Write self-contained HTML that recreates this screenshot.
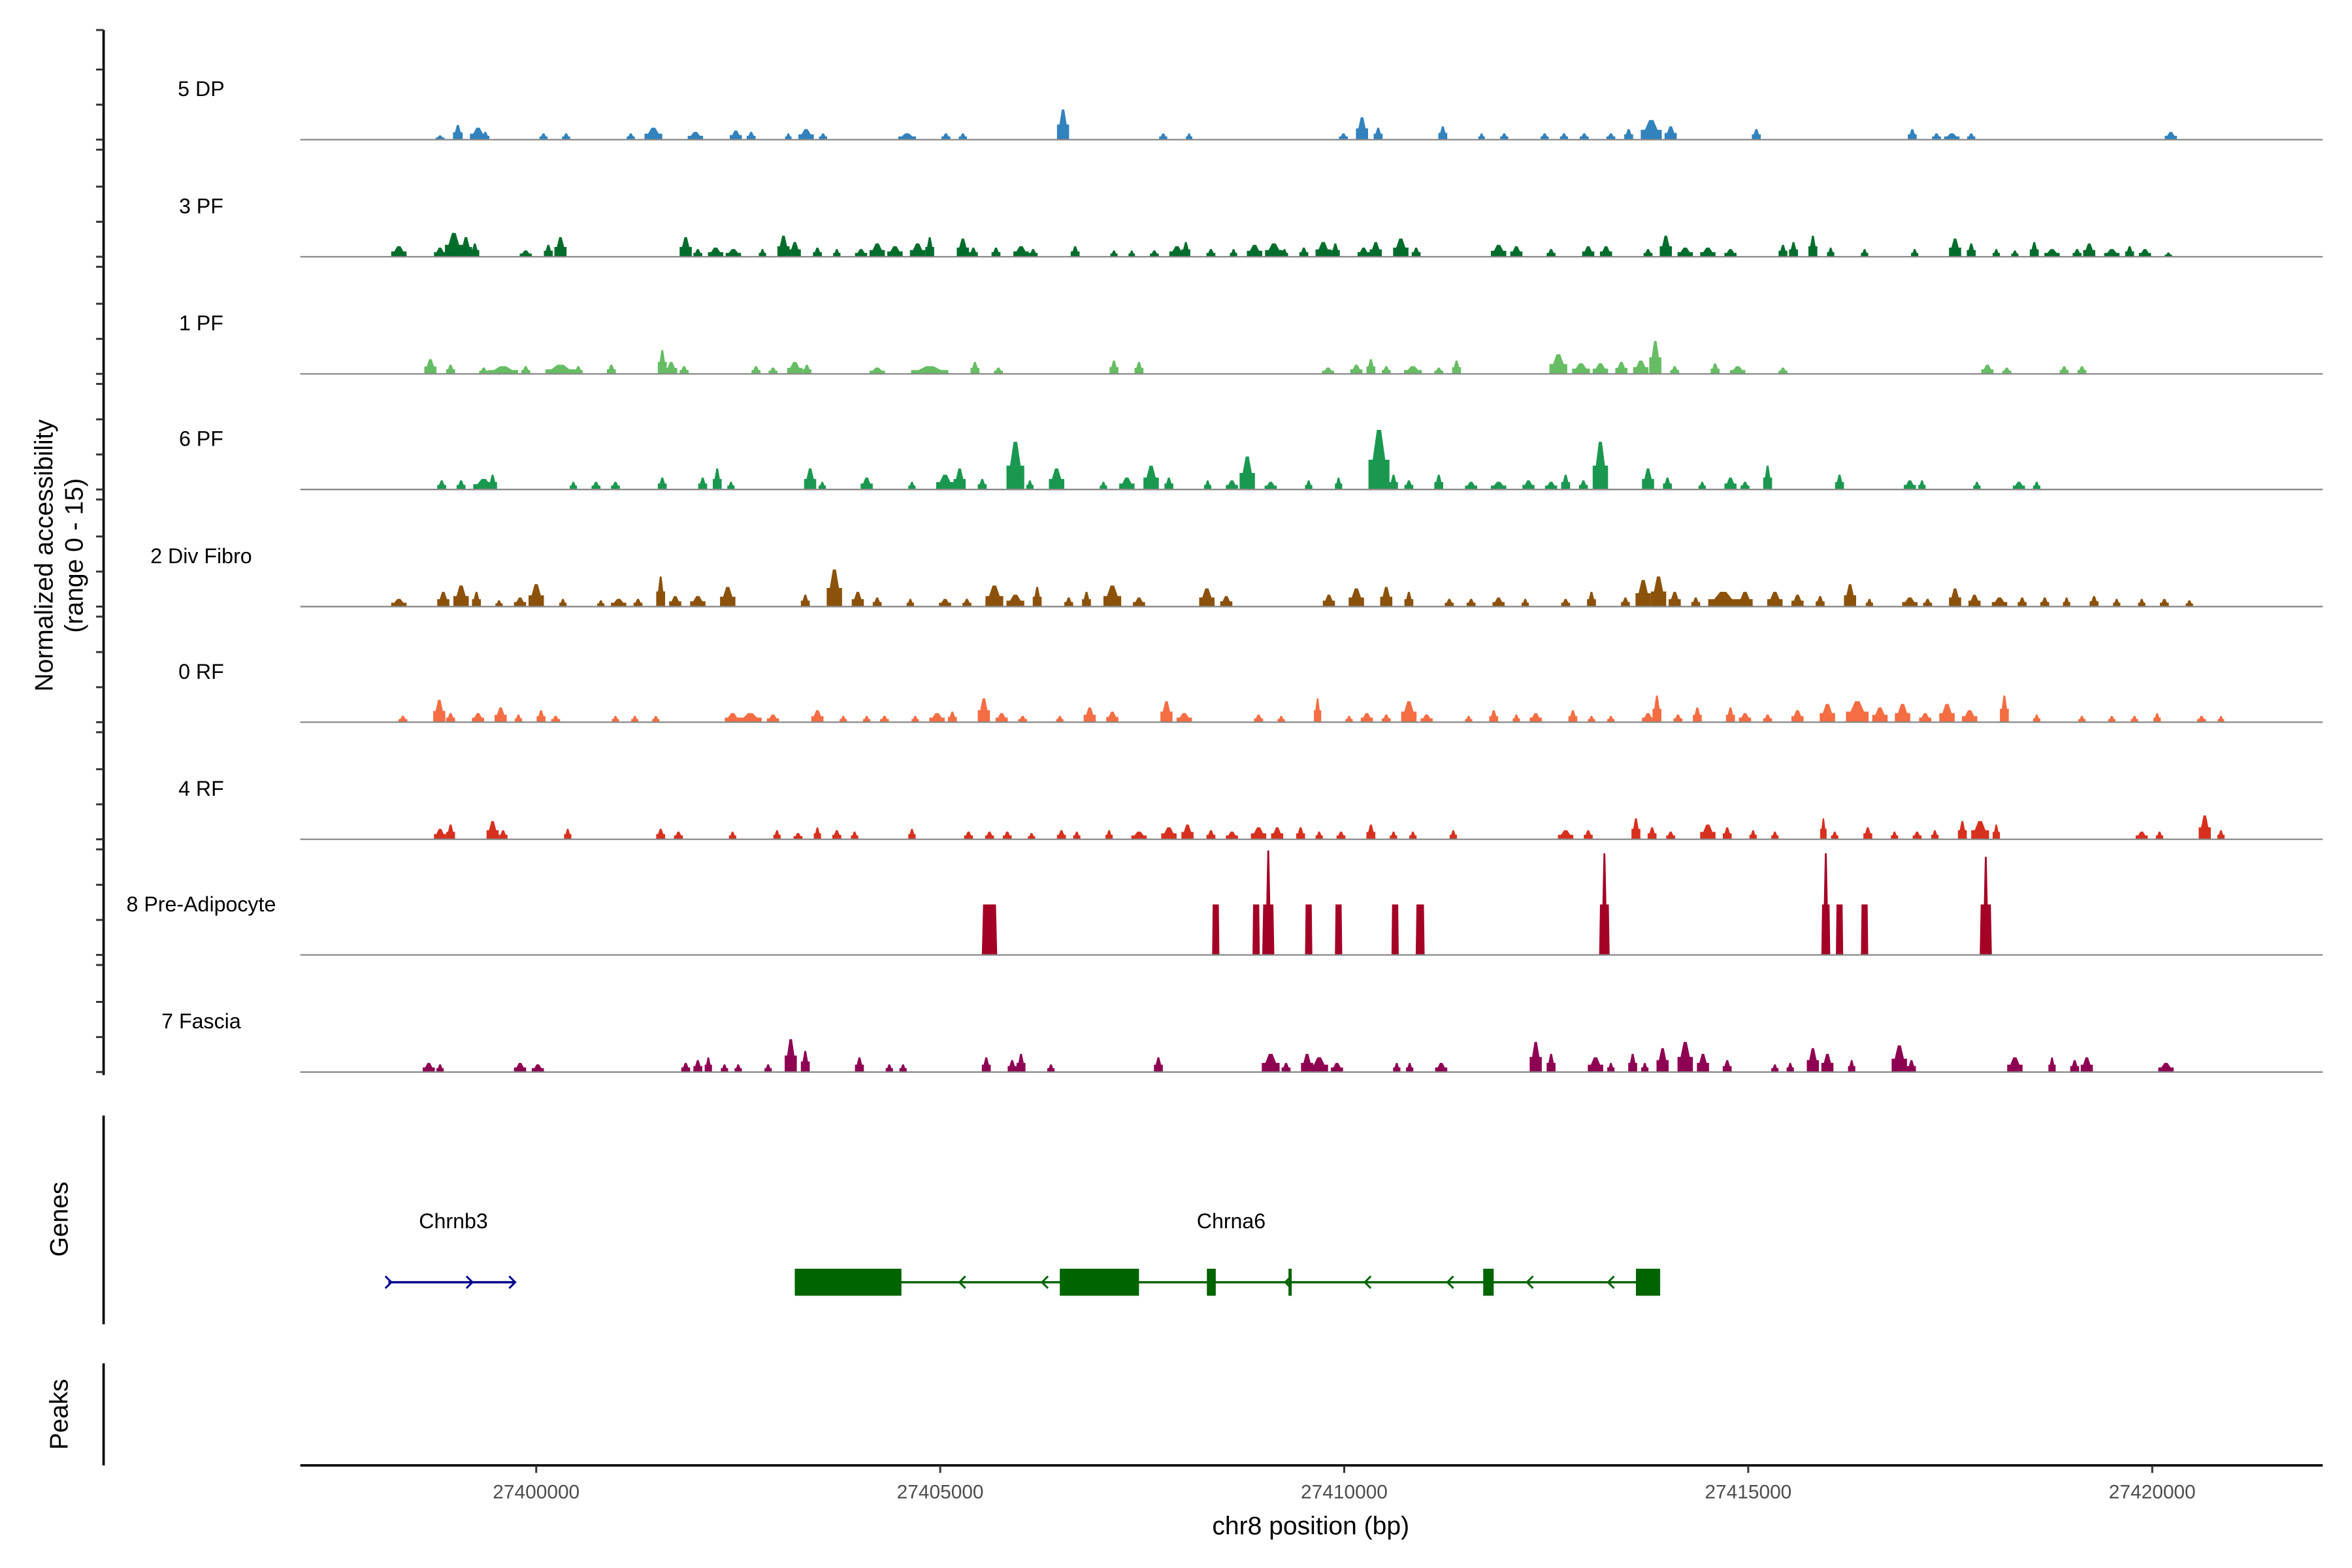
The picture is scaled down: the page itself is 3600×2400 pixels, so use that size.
<!DOCTYPE html>
<html><head><meta charset="utf-8"><style>
html,body{margin:0;padding:0;background:#fff}
svg{display:block}
text{font-family:"Liberation Sans",Arial,sans-serif}
</style></head><body>
<svg id="chart" xmlns="http://www.w3.org/2000/svg" width="3600" height="2400" viewBox="0 0 1566.5 1044.33" preserveAspectRatio="none">
<rect x="0" y="0" width="1570" height="1050" fill="#fff"/>
<g id="tracks"></g>
<g id="genes"></g>
<g id="axes"></g>
</svg>
<script>
// Genomic window (kb offsets relative to 27,400,000 bp)
const xDomain = [-2.92, 22.11];
const xTicks = [27400000, 27405000, 27410000, 27415000, 27420000];
const yRange = [0, 15];
const trackNames = ["5 DP","3 PF","1 PF","6 PF","2 Div Fibro","0 RF","4 RF","8 Pre-Adipocyte","7 Fascia"];
const trackColors = ["#3182bd","#006d2c","#66bd63","#1a9850","#8c510a","#f46d43","#d7301f","#a50026","#8e0152"];
// peaks: [center kb offset, width kb, height (normalized)]
const peaks5DP = [[-1.19,.11,.6],[-0.97,.12,2.1],[-0.72,.2,1.7],[-0.63,.1,1.1],[0.09,.1,.9],[0.37,.1,.9],[1.17,.1,.9],[1.45,.22,1.7],[1.97,.19,1.1],[2.47,.15,1.3],[2.66,.11,1.1],[3.12,.08,.9],[3.34,.19,1.5],[3.55,.1,.9],[4.59,.22,.9],[5.07,.11,.9],[5.28,.1,.9],[6.52,.15,4.3],[7.76,.1,.9],[8.08,.08,.9],[9.99,.11,.9],[10.22,.15,3.2],[10.42,.11,1.7],[11.22,.11,1.9],[11.70,.08,.9],[11.98,.1,.9],[12.48,.1,.9],[12.72,.1,.9],[12.97,.11,.9],[13.30,.11,.9],[13.52,.11,1.5],[13.80,.26,2.8],[14.04,.15,1.9],[15.10,.11,1.5],[17.03,.11,1.5],[17.33,.11,.9],[17.52,.19,.9],[17.76,.1,.9],[20.23,.15,1.1]];
const peaks3PF = [[-1.70,.19,1.5],[-1.19,.15,1.3],[-1.02,.22,3.4],[-0.87,.15,2.8],[-0.76,.11,1.9],[-0.13,.15,.9],[0.15,.11,1.7],[0.30,.15,2.8],[1.85,.15,2.8],[2.00,.11,1.1],[2.22,.19,1.3],[2.44,.19,1.1],[2.80,.09,1.1],[3.06,.15,3.0],[3.20,.15,2.1],[3.48,.11,1.3],[3.72,.09,1.1],[4.02,.15,1.1],[4.22,.19,1.9],[4.44,.19,1.5],[4.72,.19,1.9],[4.87,.11,2.8],[5.28,.15,2.6],[5.41,.11,1.3],[5.69,.11,1.3],[6.00,.19,1.5],[6.15,.11,1.1],[6.67,.11,1.5],[7.15,.09,.9],[7.37,.08,.9],[7.65,.11,.9],[7.93,.19,1.5],[8.04,.11,2.1],[8.35,.11,1.1],[8.63,.09,1.1],[8.89,.19,1.7],[9.13,.22,1.9],[9.26,.09,1.1],[9.50,.11,1.3],[9.74,.19,2.1],[9.89,.11,1.9],[10.24,.15,1.3],[10.39,.15,2.1],[10.70,.19,2.6],[10.89,.11,1.3],[11.91,.19,1.7],[12.13,.15,1.5],[12.56,.11,1.1],[13.02,.15,1.5],[13.24,.15,1.5],[13.76,.11,1.1],[13.98,.15,3.0],[14.22,.19,1.3],[14.50,.19,1.3],[14.78,.15,1.1],[15.43,.11,1.7],[15.56,.11,2.1],[15.80,.11,3.0],[16.02,.09,1.3],[16.44,.09,1.1],[17.06,.09,1.1],[17.56,.15,2.6],[17.76,.11,1.9],[18.07,.09,1.1],[18.30,.09,.9],[18.54,.11,2.1],[18.76,.19,1.1],[19.07,.11,1.1],[19.22,.15,1.9],[19.50,.19,1.1],[19.72,.11,1.5],[19.91,.15,1.1],[20.20,.09,.6]];
const peaks1PF = [[-1.31,.15,2.1],[-1.06,.11,1.3],[-0.65,.11,.9],[-0.41,.37,1.1],[-0.13,.11,1.1],[0.30,.37,1.3],[0.52,.11,1.1],[0.93,.11,1.3],[1.56,.11,3.4],[1.67,.15,1.7],[1.83,.11,1.1],[2.72,.11,1.1],[2.93,.11,.9],[3.20,.19,1.7],[3.35,.11,1.3],[4.22,.19,.9],[4.87,.46,1.1],[5.43,.11,1.7],[5.72,.11,.9],[7.15,.11,1.9],[7.46,.11,1.7],[9.80,.15,.9],[10.15,.15,1.3],[10.33,.11,2.1],[10.52,.11,1.1],[10.85,.22,1.1],[11.17,.11,.9],[11.39,.11,1.9],[12.65,.22,2.8],[12.93,.22,1.5],[13.17,.19,1.5],[13.43,.15,1.7],[13.67,.19,1.9],[13.85,.15,4.7],[14.09,.11,1.1],[14.59,.11,1.5],[14.87,.19,1.1],[15.43,.11,.9],[17.96,.15,1.3],[18.20,.11,.9],[18.91,.11,1.1],[19.13,.11,1.1]];
const peaks6PF = [[-1.17,.11,1.3],[-0.93,.11,1.3],[-0.65,.26,1.5],[-0.54,.11,2.1],[0.46,.09,1.1],[0.74,.11,1.1],[0.98,.11,1.1],[1.56,.11,1.7],[2.06,.11,1.7],[2.24,.11,3.0],[2.41,.09,1.1],[3.39,.15,3.0],[3.54,.09,1.1],[4.09,.15,1.7],[4.65,.09,1.1],[5.06,.22,2.1],[5.24,.15,3.0],[5.52,.11,1.5],[5.93,.22,6.8],[6.11,.09,1.3],[6.44,.19,3.0],[7.02,.09,1.1],[7.31,.19,1.7],[7.61,.19,3.4],[7.83,.11,1.7],[8.31,.09,1.3],[8.61,.15,1.3],[8.80,.19,4.7],[9.09,.15,1.1],[9.56,.09,1.3],[9.93,.09,1.7],[10.43,.26,8.5],[10.61,.11,2.1],[10.80,.11,1.3],[11.17,.11,2.1],[11.57,.15,1.1],[11.91,.19,1.1],[12.28,.15,1.3],[12.56,.15,1.1],[12.74,.11,2.1],[12.96,.11,1.3],[13.17,.19,6.8],[13.76,.15,3.0],[14.00,.11,1.7],[14.43,.09,1.1],[14.78,.15,1.7],[14.96,.11,1.1],[15.24,.11,3.4],[16.13,.11,2.1],[17.00,.15,1.3],[17.15,.09,1.3],[17.83,.09,1.1],[18.35,.15,1.1],[18.57,.09,1.1]];
const peaks2DivFibro = [[-1.70,.19,1.1],[-1.15,.15,2.1],[-0.93,.19,3.0],[-0.74,.11,2.1],[-0.46,.09,.9],[-0.20,.15,1.3],[0.00,.19,3.2],[0.33,.09,1.1],[0.80,.09,.9],[1.02,.19,1.1],[1.26,.11,1.1],[1.54,.11,4.3],[1.72,.15,1.5],[2.00,.19,1.5],[2.37,.19,2.8],[3.33,.11,1.7],[3.69,.19,5.3],[3.98,.15,2.1],[4.22,.11,1.3],[4.63,.09,1.1],[5.06,.15,1.1],[5.33,.11,1.1],[5.67,.22,3.0],[5.93,.22,1.7],[6.20,.11,2.8],[6.59,.11,1.3],[6.81,.11,2.1],[7.13,.22,3.0],[7.46,.15,1.3],[8.30,.19,2.6],[8.54,.15,1.5],[9.81,.15,1.7],[10.15,.19,2.6],[10.52,.15,2.8],[10.80,.11,2.1],[11.30,.11,1.1],[11.57,.11,1.1],[11.91,.15,1.3],[12.24,.09,1.1],[12.74,.11,1.1],[13.06,.11,2.1],[13.48,.11,1.3],[13.70,.19,3.8],[13.89,.19,4.3],[14.09,.15,2.1],[14.35,.11,1.3],[14.69,.37,2.1],[14.96,.19,2.1],[15.33,.19,2.1],[15.61,.15,1.7],[15.89,.11,1.5],[16.26,.15,3.2],[16.50,.09,1.1],[17.00,.19,1.3],[17.22,.11,1.1],[17.56,.15,2.6],[17.80,.15,1.7],[18.11,.19,1.3],[18.39,.11,1.3],[18.67,.11,1.3],[18.94,.09,1.3],[19.28,.11,1.5],[19.56,.09,1.1],[19.87,.09,1.1],[20.15,.11,1.1],[20.46,.09,.9]];
const peaks0RF = [[-1.65,.11,.9],[-1.20,.15,3.2],[-1.06,.11,1.3],[-0.72,.15,1.3],[-0.44,.15,2.1],[-0.22,.09,1.1],[0.06,.11,1.7],[0.24,.11,.9],[0.98,.09,.9],[1.22,.09,.9],[1.48,.09,.9],[2.43,.19,1.3],[2.65,.28,1.3],[2.93,.15,1.1],[3.48,.15,1.7],[3.80,.09,.9],[4.09,.09,.9],[4.31,.11,.9],[4.69,.09,.9],[4.96,.19,1.3],[5.15,.11,1.5],[5.54,.15,3.4],[5.76,.15,1.3],[6.02,.11,.9],[6.48,.09,.9],[6.85,.15,2.1],[7.13,.15,1.5],[7.80,.15,3.0],[8.02,.19,1.3],[8.94,.11,1.1],[9.22,.09,.9],[9.67,.09,3.4],[10.06,.09,.9],[10.28,.15,1.3],[10.52,.11,1.1],[10.80,.19,3.0],[11.02,.15,1.1],[11.54,.09,.9],[11.85,.11,1.7],[12.13,.09,1.1],[12.37,.15,1.3],[12.83,.11,1.7],[13.06,.09,.9],[13.30,.09,.9],[13.76,.15,1.3],[13.87,.11,3.8],[14.13,.11,1.1],[14.37,.11,2.1],[14.78,.11,2.1],[14.96,.15,1.3],[15.24,.11,1.1],[15.61,.15,1.7],[15.98,.19,2.6],[16.35,.28,3.0],[16.63,.19,2.1],[16.91,.19,2.6],[17.19,.15,1.3],[17.46,.19,2.6],[17.74,.19,1.7],[18.17,.11,3.8],[18.57,.09,1.1],[19.13,.09,.9],[19.50,.09,.9],[19.78,.09,.9],[20.06,.09,1.3],[20.61,.11,.9],[20.85,.08,.9]];
const peaks4RF = [[-1.19,.15,1.5],[-1.06,.11,2.1],[-0.54,.15,2.6],[-0.41,.11,1.3],[0.39,.09,1.5],[1.54,.11,1.5],[1.76,.11,1.1],[2.43,.09,1.1],[2.98,.09,1.3],[3.24,.11,.9],[3.48,.09,1.7],[3.72,.11,1.3],[3.94,.09,1.1],[4.65,.09,1.5],[5.35,.11,1.1],[5.61,.11,1.1],[5.83,.11,1.1],[6.13,.09,.9],[6.50,.11,1.3],[6.69,.09,1.1],[7.09,.09,1.3],[7.46,.19,1.1],[7.83,.19,1.7],[8.06,.15,2.1],[8.35,.11,1.3],[8.61,.15,1.1],[8.94,.19,1.7],[9.17,.15,1.7],[9.46,.11,1.7],[9.69,.09,1.1],[9.96,.11,1.1],[10.33,.11,2.1],[10.61,.09,1.1],[10.85,.09,1.1],[11.35,.09,1.3],[12.74,.19,1.3],[13.02,.11,1.3],[13.61,.11,3.0],[13.81,.11,1.7],[14.04,.11,1.1],[14.50,.19,2.1],[14.74,.11,1.7],[15.06,.09,1.3],[15.33,.09,1.1],[15.93,.08,3.0],[16.07,.09,1.1],[16.48,.11,1.7],[16.81,.09,1.1],[17.09,.11,1.1],[17.31,.09,1.3],[17.65,.11,2.6],[17.87,.22,2.6],[18.07,.09,2.1],[19.87,.15,1.1],[20.09,.09,1.1],[20.65,.15,3.4],[20.85,.09,1.3]];
const blocksPreAdipocyte = [[5.61,.19,7.2],[8.41,.09,7.2],[8.91,.09,7.2],[9.06,.15,7.2],[9.56,.09,7.2],[9.93,.09,7.2],[10.63,.09,7.2],[10.94,.11,7.2],[13.22,.13,7.2],[15.96,.11,7.2],[16.13,.09,7.2],[16.44,.09,7.2],[17.94,.15,7.2]];
const spikesPreAdipocyte = [[9.06,14.9],[13.22,14.5],[15.96,14.5],[17.94,14.0]];
const peaks7Fascia = [[-1.33,.15,1.3],[-1.19,.09,1.1],[-0.20,.15,1.3],[0.02,.15,1.1],[1.85,.11,1.3],[2.00,.11,1.7],[2.13,.09,2.1],[2.33,.09,1.1],[2.50,.09,1.1],[2.87,.09,1.1],[3.15,.15,4.7],[3.33,.11,3.0],[4.00,.11,2.1],[4.37,.09,1.1],[4.54,.09,1.1],[5.57,.11,2.1],[5.89,.11,1.7],[6.00,.11,2.6],[6.37,.09,1.1],[7.70,.11,2.1],[9.09,.22,2.6],[9.28,.11,1.3],[9.54,.15,2.6],[9.69,.22,2.1],[9.91,.15,1.3],[10.65,.09,1.3],[10.81,.09,1.3],[11.20,.15,1.3],[12.37,.15,4.3],[12.56,.11,2.6],[13.11,.19,2.1],[13.30,.09,1.3],[13.57,.11,2.6],[13.72,.09,1.3],[13.94,.15,3.4],[14.22,.19,4.3],[14.44,.15,2.6],[14.74,.11,1.7],[15.33,.09,1.1],[15.52,.09,1.3],[15.80,.15,3.4],[15.98,.15,2.6],[16.28,.09,1.7],[16.87,.19,3.8],[17.02,.11,1.7],[18.30,.19,2.1],[18.76,.09,2.1],[19.04,.11,1.7],[19.19,.15,2.1],[20.17,.19,1.3]];
// genes
const chrnb3 = [-1.83, -0.26];
const chrna6 = [3.20, 13.91];
const chrna6Exons = [[3.20,4.52],[6.48,7.46],[8.30,8.41],[9.31,9.35],[11.72,11.85],[13.61,13.91]];

const NS = "http://www.w3.org/2000/svg";
const X0 = 200, X1 = 1547;
function xScale(kb){ return X0 + (kb - xDomain[0]) / (xDomain[1] - xDomain[0]) * (X1 - X0); }
const trackPx = 70;
function yScale(v, base){ return base - (v - yRange[0]) / (yRange[1] - yRange[0]) * trackPx; }
const bases = [93,171,249,326,404,481,559,636,714];
function mk(tag, attrs, parent){ const e = document.createElementNS(NS, tag); for (const k in attrs) e.setAttribute(k, attrs[k]); parent.appendChild(e); return e; }

const tracksG = document.getElementById('tracks');
const allPeaks = [peaks5DP, peaks3PF, peaks1PF, peaks6PF, peaks2DivFibro, peaks0RF, peaks4RF, blocksPreAdipocyte, peaks7Fascia];
trackNames.forEach((name, i) => {
  const b = bases[i];
  const g = mk('g', {}, tracksG);
  
  
  const lab = mk('text', {x:134, y:b-29, 'font-size':14, 'text-anchor':'middle', fill:'#000'}, g);
  lab.textContent = name;
  
  
  const pk = allPeaks[i];
  pk.forEach(p => {
    const l = xScale(p[0] - p[1]/2), r = xScale(p[0] + p[1]/2), c = xScale(p[0]);
    const w = r - l, top = yScale(p[2], b);
    let pts;
    if (i === 7) {
      pts = [[l,b],[l+w*0.08,top],[r-w*0.08,top],[r,b]];
    } else {
      const mid = yScale(p[2]*0.5, b);
      pts = [[l,b],[l,mid],[l+w*0.2,mid],[c-w*0.1,top],[c+w*0.1,top],[r-w*0.2,mid],[r,mid],[r,b]];
    }
    const poly = mk('polygon', {points: pts.map(q=>q[0].toFixed(2)+','+q[1].toFixed(2)).join(' '), fill: trackColors[i]}, g);
    
    
  });
  if (i === 7) {
    spikesPreAdipocyte.forEach(s => {
      const c = xScale(s[0]);
      const poly = mk('polygon', {points: `${c-2},${b} ${c-0.6},${yScale(s[1],b)} ${c+0.6},${yScale(s[1],b)} ${c+2},${b}`, fill: trackColors[i]}, g);
      
      
    });
  }
  const bl = mk('line', {x1:X0, x2:X1, y1:b, y2:b, stroke:'#888', 'stroke-width':1}, g);
  
  
});

// genes
const genesG = document.getElementById('genes');
const gy = 854;
function arrow(x, dir, color){
  const d = dir > 0 ? `M${x-3},${gy-4} L${x+1},${gy} L${x-3},${gy+4}` : `M${x+3},${gy-4} L${x-1},${gy} L${x+3},${gy+4}`;
  const a = mk('path', {d:d, stroke:color, 'stroke-width':1.3, fill:'none'}, genesG);
  
  
}
const n3 = mk('line', {x1:xScale(chrnb3[0]), x2:xScale(chrnb3[1]), y1:gy, y2:gy, stroke:'#00008b', 'stroke-width':1.5}, genesG);


[xScale(chrnb3[0])+1, xScale(chrnb3[0])+55, xScale(chrnb3[1])-1].forEach(x => arrow(x, 1, '#00008b'));
const n6 = mk('line', {x1:xScale(chrna6[0]), x2:xScale(chrna6[1]), y1:gy, y2:gy, stroke:'#006400', 'stroke-width':1.5}, genesG);


[640,695,806,857,910,965,1018,1072].forEach(x => arrow(x, -1, '#006400'));
chrna6Exons.forEach(e => {
  const x1 = xScale(e[0]), x2 = xScale(e[1]);
  const r = mk('rect', {x:x1, y:gy-9, width:Math.max(1.5, x2-x1), height:18, fill:'#006400'}, genesG);
  
  
});
const l3 = mk('text', {x:302, y:818, 'font-size':14, 'text-anchor':'middle'}, genesG);
l3.textContent = 'Chrnb3';


const l6 = mk('text', {x:820, y:818, 'font-size':14, 'text-anchor':'middle'}, genesG);
l6.textContent = 'Chrna6';



// axes
const axG = document.getElementById('axes');
function ln(x1,y1,x2,y2,w,name,col){ const e = mk('line',{x1,y1,x2,y2,stroke:col||'#000','stroke-width':w},axG);   return e; }
ln(69,20,69,716,1.6,'y-axis-line');
ln(69,743,69,882,1.6,'genes-axis-line');
ln(69,908,69,976,1.6,'peaks-axis-line');
const tys = [20];
bases.forEach(b => { tys.push(b-46.7, b-23.3, b); if (b < 714) tys.push(b+6.7); });
tys.forEach(y => ln(64,y,69,y,1.3,'y-tick','#333'));
ln(200,976,1547,976,1.6,'x-axis-line');
xTicks.forEach(t => {
  const x = xScale((t - 27400000)/1000);
  ln(x,976,x,981,1.3,'x-tick','#333');
  const tx = mk('text',{x:x, y:998, 'font-size':13, 'text-anchor':'middle', fill:'#4d4d4d'},axG);
  tx.textContent = String(t);
  
  
});
const xt = mk('text',{x:873, y:1022, 'font-size':17, 'text-anchor':'middle'},axG);
xt.textContent = 'chr8 position (bp)';


const yt = mk('text',{transform:'translate(35,370) rotate(-90)', 'font-size':17, 'text-anchor':'middle'},axG);
yt.textContent = 'Normalized accessibility';


const yt2 = mk('text',{transform:'translate(55,370) rotate(-90)', 'font-size':17, 'text-anchor':'middle'},axG);
yt2.textContent = '(range 0 - 15)';


const gt = mk('text',{transform:'translate(45,812) rotate(-90)', 'font-size':17, 'text-anchor':'middle'},axG);
gt.textContent = 'Genes';


const pt = mk('text',{transform:'translate(45,942) rotate(-90)', 'font-size':17, 'text-anchor':'middle'},axG);
pt.textContent = 'Peaks';


</script>
</body></html>
